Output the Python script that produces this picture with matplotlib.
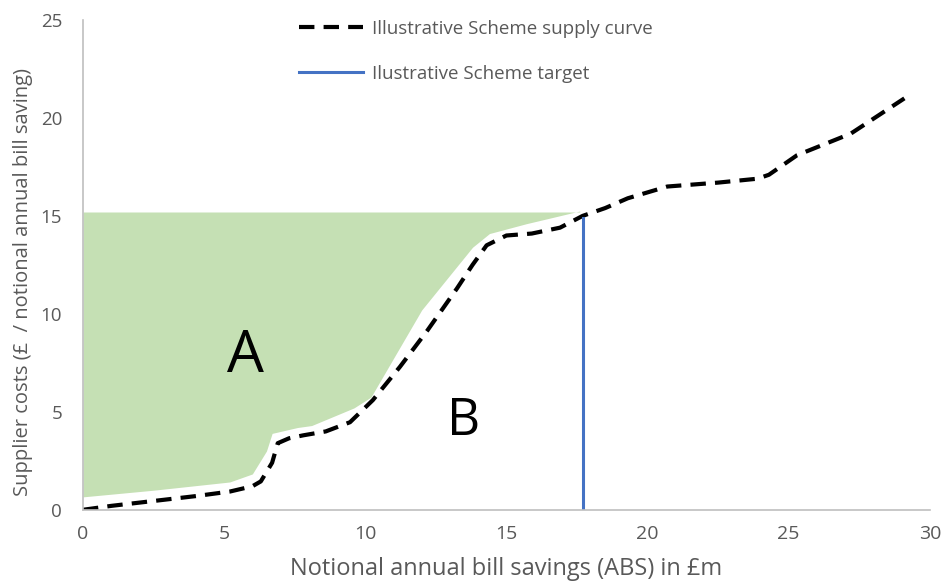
import matplotlib
matplotlib.use("Agg")
import matplotlib.pyplot as plt

# Supply curve
curve_x = [0, 1.0, 2.5, 4.0, 5.2, 6.0, 6.3, 6.7, 6.9, 7.3, 7.8, 8.6, 9.46, 10.27, 11.23, 12.2, 13.25, 13.8, 14.3, 15.0, 15.9, 16.9, 17.7,
           18.5, 19.3, 20.7, 22.5, 23.9, 24.3, 25.3, 27.2, 29.1]
curve_y = [0, 0.2, 0.45, 0.7, 0.93, 1.2, 1.45, 2.4, 3.4, 3.65, 3.8, 4.0, 4.47, 5.6, 7.3, 9.15, 11.3, 12.5, 13.5, 14.0, 14.1, 14.4, 15.0,
           15.4, 15.9, 16.5, 16.7, 16.9, 17.1, 18.1, 19.2, 21.0]

# Shaded area A (lower boundary, up to target cost)
fill_x = [0, 2.5, 5.2, 6.0, 6.5, 6.7, 7.6, 8.1, 9.6, 10.2, 12.0, 13.8, 14.4, 15.7, 17.6]
fill_lo = [0.66, 1.0, 1.42, 1.83, 3.0, 3.9, 4.2, 4.3, 5.2, 5.75, 10.2, 13.4, 14.1, 14.6, 15.25]
fill_top = 15.2

target_x = 17.7
target_y = 14.9

xticks = [0, 5, 10, 15, 20, 25, 30]
yticks = [0, 5, 10, 15, 20, 25]

plt.rcParams['font.family'] = ['Open Sans', 'DejaVu Sans']
grey = '#595959'

fig = plt.figure(figsize=(9.43, 5.88), dpi=100)
ax = fig.add_axes([0.088, 0.133, 0.898, 0.833])

ax.fill_between(fill_x, fill_lo, [fill_top] * len(fill_x), color='#C5E0B4', linewidth=0)
ax.plot(curve_x, curve_y, color='black', linestyle=(0, (3.7, 2.2)), linewidth=3,
        label='Illustrative Scheme supply curve')
ax.plot([target_x, target_x], [0, target_y], color='#4472C4', linewidth=2.2,
        label='Ilustrative Scheme target')

ax.text(5.74, 7.8, 'A', fontsize=42, ha='center', va='center', color='black')
ax.text(13.5, 4.5, 'B', fontsize=37, ha='center', va='center', color='black')

ax.set_xlim(0, 30)
ax.set_ylim(0, 25)
ax.set_xticks(xticks)
ax.set_yticks(yticks)
ax.tick_params(axis='x', length=0, labelsize=14, colors=grey, pad=11)
ax.tick_params(axis='y', length=0, labelsize=13.5, colors=grey, pad=15)
for s in ['top', 'right']:
    ax.spines[s].set_visible(False)
for s in ['left', 'bottom']:
    ax.spines[s].set_color('#BFBFBF')
    ax.spines[s].set_linewidth(1.2)

ax.set_xlabel('Notional annual bill savings (ABS) in £m', fontsize=17, color=grey, labelpad=10)
ax.set_ylabel('Supplier costs (£  / notional annual bill saving)', fontsize=14.5, color=grey)
ax.yaxis.set_label_coords(-0.059, 0.465)

leg = ax.legend(loc='upper left', bbox_to_anchor=(0.235, 1.035), frameon=False, fontsize=13.5,
                handlelength=3.4, labelspacing=1.45, handletextpad=0.5)
for t in leg.get_texts():
    t.set_color(grey)

fig.savefig('out.png', dpi=100, facecolor='white')
